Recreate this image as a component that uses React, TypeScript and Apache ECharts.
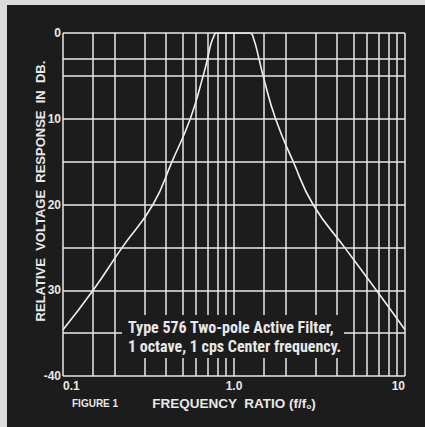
import React, { useEffect, useRef } from "react";
import * as echarts from "echarts";

// Frequency ratio (f/f0) and attenuation in dB
const freqRatio = [0.1, 0.15, 0.222, 0.336, 0.434, 0.555, 0.66, 0.7, 0.73, 0.765, 0.79, 1.0, 1.24, 1.3, 1.4, 1.48, 1.75, 2.22, 2.9, 4.43, 6.8, 10];
const responseDb = [34.6, 30, 25, 20, 15, 10, 5, 3, 1.4, 0.3, 0, 0, 0, 0.6, 3, 5, 10, 15, 20, 25, 30, 34.6];

// Chart grid lines
const gridFreqs = [0.1, 0.15, 0.2, 0.3, 0.4, 0.5, 0.6, 0.7, 0.8, 0.9, 1, 1.5, 2, 3, 4, 5, 6, 7, 8, 9, 10];
const gridDb = [0, 3, 5, 10, 15, 20, 25, 30, 35, 40];
const yTickLabels: Record<number, string> = { 0: "0", 10: "10", 20: "20", 30: "30", 40: "-40" };
const xTickLabels: Record<string, string> = { "0.1": "0.1", "1": "1.0", "10": "10" };

const LINE = "#e8e8e8";
const FONT = "'Liberation Sans', Arial, sans-serif";

export default function App() {
  const ref = useRef<HTMLDivElement>(null);
  useEffect(() => {
    if (!ref.current) return;
    const chart = echarts.init(ref.current, undefined, { renderer: "svg" });
    const marks: any[] = [];
    gridFreqs.forEach((f) => marks.push({ xAxis: f }));
    gridDb.forEach((d) => marks.push({ yAxis: d }));
    chart.setOption({
      animation: false,
      backgroundColor: "#1c1c1c",
      grid: { left: 56, top: 28, right: 20, bottom: 51 },
      xAxis: {
        type: "log",
        min: 0.1,
        max: 10,
        logBase: 10,
        axisLine: { show: false },
        axisTick: { show: false },
        splitLine: { show: false },
        axisLabel: {
          color: LINE,
          fontFamily: FONT,
          fontWeight: "bold",
          fontSize: 12,
          margin: 4,
          alignMinLabel: "left",
          alignMaxLabel: "right",
          formatter: (v: number) => xTickLabels[String(Math.round(v * 10) / 10)] ?? "",
        },
        name: "{n|FREQUENCY  RATIO (f/f}{s|o}{n|)}",
        nameLocation: "middle",
        nameGap: 16,
        nameTextStyle: {
          rich: {
            n: { color: LINE, fontFamily: FONT, fontWeight: "bold", fontSize: 13.5 },
            s: { color: LINE, fontFamily: FONT, fontWeight: "bold", fontSize: 8, padding: [6, 0, 0, 0] },
          },
        },
      },
      yAxis: {
        type: "value",
        min: 0,
        max: 40,
        interval: 10,
        inverse: true,
        axisLine: { show: false },
        axisTick: { show: false },
        splitLine: { show: false },
        axisLabel: {
          color: LINE,
          fontFamily: FONT,
          fontWeight: "bold",
          fontSize: 12,
          margin: 2,
          formatter: (v: number) => yTickLabels[v] ?? "",
        },
      },
      series: [
        {
          type: "line",
          data: freqRatio.map((f, i) => [f, responseDb[i]]),
          showSymbol: false,
          smooth: 0.5,
          lineStyle: { color: "#f0f0f0", width: 1.6 },
          z: 3,
          markLine: {
            silent: true,
            symbol: ["none", "none"],
            label: { show: false },
            lineStyle: { color: LINE, width: 1.5, type: "solid" },
            data: marks,
          },
        },
      ],
      graphic: [
        {
          type: "rect",
          shape: { x: 115, y: 310, width: 222, height: 43 },
          style: { fill: "#1c1c1c" },
          z: 100,
        },
        {
          type: "text",
          x: 121,
          y: 322,
          z: 101,
          style: {
            text: "Type 576 Two-pole Active Filter,",
            fill: LINE,
            font: `bold 16px 'Liberation Sans Narrow', 'Roboto Condensed', ${FONT}`,
            verticalAlign: "middle",
          },
        },
        {
          type: "text",
          x: 121,
          y: 341,
          z: 101,
          style: {
            text: "1 octave, 1 cps Center frequency.",
            fill: LINE,
            font: `bold 16px 'Liberation Sans Narrow', 'Roboto Condensed', ${FONT}`,
            verticalAlign: "middle",
          },
        },
        {
          type: "text",
          x: 33,
          y: 186,
          rotation: Math.PI / 2,
          z: 101,
          style: {
            text: "RELATIVE  VOLTAGE  RESPONSE  IN  DB.",
            fill: LINE,
            font: `bold 13px ${FONT}`,
            align: "center",
            verticalAlign: "middle",
          },
        },
        {
          type: "text",
          x: 65,
          y: 398,
          z: 101,
          style: {
            text: "FIGURE 1",
            fill: LINE,
            font: `bold 10px ${FONT}`,
            verticalAlign: "middle",
          },
        },
      ],
    });
    return () => chart.dispose();
  }, []);
  return (
    <div style={{ position: "fixed", left: 0, top: 0, width: 425, height: 427, background: "#dcdcdc" }}>
      <div ref={ref} style={{ position: "absolute", left: 7, top: 5, width: 418, height: 422 }} />
    </div>
  );
}
